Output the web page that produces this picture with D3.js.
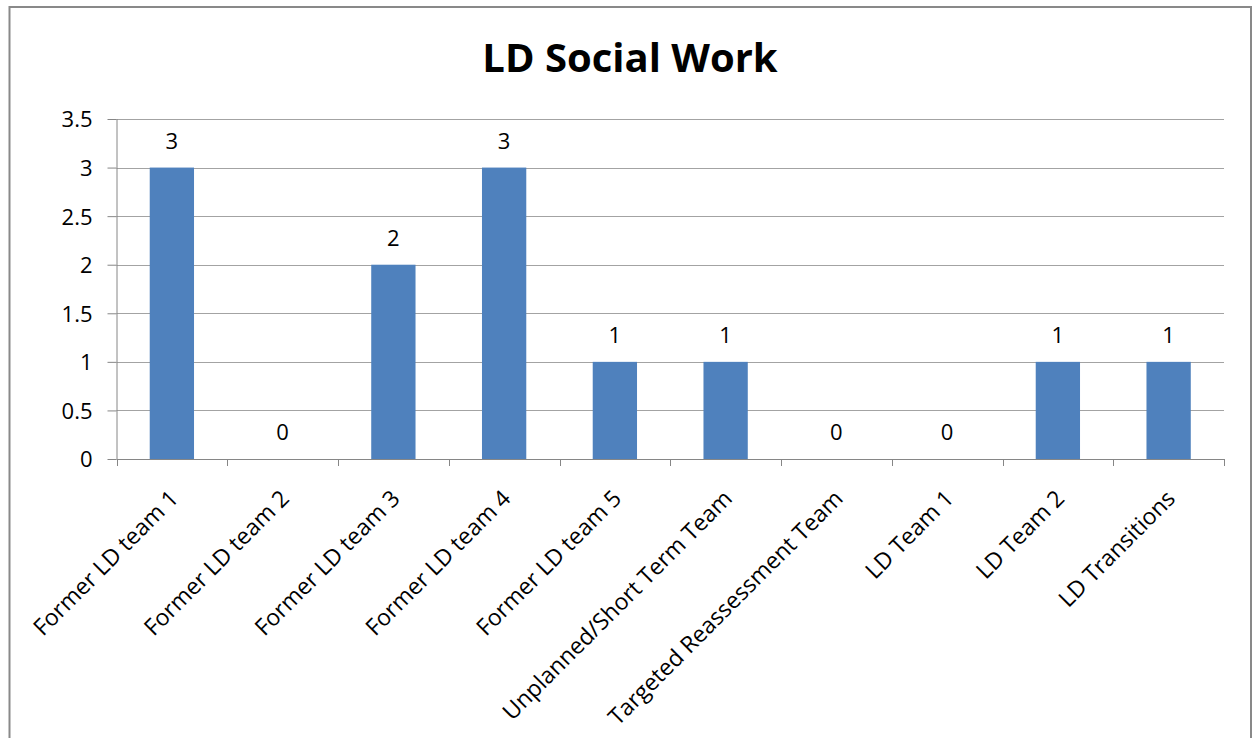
<!DOCTYPE html>
<html>
<head>
<meta charset="utf-8">
<script src="https://cdn.jsdelivr.net/npm/d3@7/dist/d3.min.js"></script>
<style>
  html, body { margin: 0; padding: 0; background: #fff; }
  svg { display: block; }
  text { font-family: "Open Sans", "Noto Sans", sans-serif; fill: #000; }
</style>
</head>
<body>
<svg id="chart" width="1253" height="738"></svg>
<script>
// Team names along the x axis
const categories = [
  "Former LD team 1",
  "Former LD team 2",
  "Former LD team 3",
  "Former LD team 4",
  "Former LD team 5",
  "Unplanned/Short Term Team",
  "Targeted Reassessment Team",
  "LD Team 1",
  "LD Team 2",
  "LD Transitions"
];
// Social work count per team
const values = [3, 0, 2, 3, 1, 1, 0, 0, 1, 1];
// Y axis ticks
const yTicks = [0, 0.5, 1, 1.5, 2, 2.5, 3, 3.5];
const chartTitle = "LD Social Work";

const plot = { left: 116.5, right: 1224, top: 119, bottom: 459 };

const svg = d3.select("#chart");

// chart frame (bottom edge runs past the visible area)
svg.append("rect")
  .attr("x", 9.5).attr("y", 7)
  .attr("width", 1241.5).attr("height", 760)
  .attr("fill", "#fff")
  .attr("stroke", "#898989")
  .attr("stroke-width", 2);

const x = d3.scaleBand()
  .domain(categories)
  .range([plot.left, plot.right])
  .paddingInner(0.6)
  .paddingOuter(0.3);

const xOuter = d3.scaleBand()
  .domain(categories)
  .range([plot.left, plot.right])
  .padding(0);

const y = d3.scaleLinear()
  .domain([0, 3.5])
  .range([plot.bottom, plot.top]);

// horizontal gridlines
svg.append("g")
  .selectAll("line")
  .data(yTicks.filter(d => d > 0))
  .join("line")
  .attr("x1", plot.left).attr("x2", plot.right)
  .attr("y1", d => Math.round(y(d)) + 0.5)
  .attr("y2", d => Math.round(y(d)) + 0.5)
  .attr("stroke", "#a3a3a3")
  .attr("stroke-width", 1);

// y axis
const yAxis = d3.axisLeft(y)
  .tickValues(yTicks)
  .tickSize(9)
  .tickPadding(15)
  .tickFormat(d3.format("~g"));
const gy = svg.append("g")
  .attr("transform", `translate(${plot.left},0)`)
  .call(yAxis);
gy.select(".domain").attr("stroke", "#868686").attr("d", `M0.5,${plot.top}V${plot.bottom}`);
gy.selectAll(".tick line").attr("stroke", "#868686");
gy.selectAll(".tick text")
  .attr("font-family", "'Open Sans', sans-serif")
  .attr("font-size", 22)
  .attr("fill", "#000")
  .attr("dy", "0.36em");

// bars
svg.append("g")
  .selectAll("rect")
  .data(categories.map((c, i) => ({ c, v: values[i] })))
  .join("rect")
  .attr("x", d => x(d.c))
  .attr("width", x.bandwidth())
  .attr("y", d => y(d.v))
  .attr("height", d => y(0) - y(d.v))
  .attr("fill", "#4f81bd");

// x axis line and ticks at category boundaries
const gx = svg.append("g");
gx.append("line")
  .attr("x1", plot.left).attr("x2", plot.right)
  .attr("y1", plot.bottom + 0.5).attr("y2", plot.bottom + 0.5)
  .attr("stroke", "#868686");
const boundaries = categories.map(c => xOuter(c)).concat([plot.right]);
gx.selectAll("line.tk")
  .data(boundaries)
  .join("line")
  .attr("class", "tk")
  .attr("x1", d => Math.round(d) + 0.5).attr("x2", d => Math.round(d) + 0.5)
  .attr("y1", plot.bottom).attr("y2", plot.bottom + 7)
  .attr("stroke", "#868686");

// rotated category labels
gx.selectAll("text")
  .data(categories)
  .join("text")
  .attr("transform", c => {
    const cx = xOuter(c) + xOuter.bandwidth() / 2;
    return `translate(${cx + 8},${plot.bottom + 41}) rotate(-45)`;
  })
  .attr("text-anchor", "end")
  .attr("font-size", 23)
  .text(c => c);

// value labels
svg.append("g")
  .selectAll("text")
  .data(categories.map((c, i) => ({ c, v: values[i] })))
  .join("text")
  .attr("x", d => x(d.c) + x.bandwidth() / 2)
  .attr("y", d => y(d.v) - 19)
  .attr("text-anchor", "middle")
  .attr("font-size", 22)
  .text(d => d.v);

// title
svg.append("text")
  .attr("x", 630)
  .attr("y", 72)
  .attr("text-anchor", "middle")
  .attr("font-size", 40)
  .attr("font-weight", "bold")
  .text(chartTitle);
</script>
</body>
</html>
